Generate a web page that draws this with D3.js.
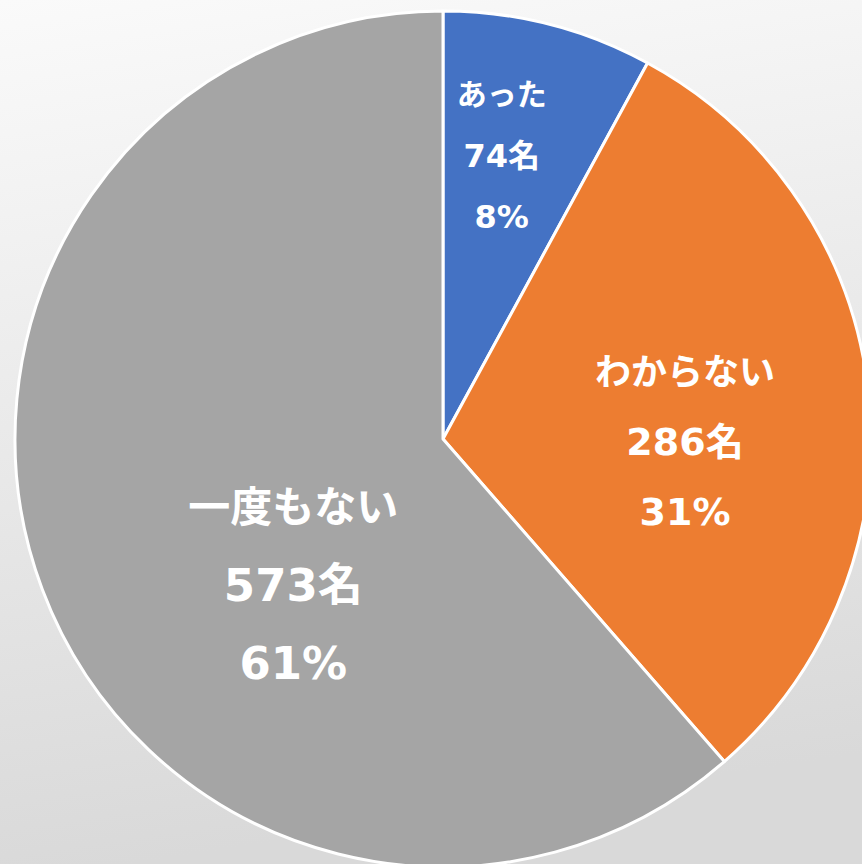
<!DOCTYPE html>
<html>
<head>
<meta charset="utf-8">
<script src="https://cdn.jsdelivr.net/npm/d3@7"></script>
<style>
  html, body { margin: 0; padding: 0; overflow: hidden; }
  #chart { width: 862px; height: 864px; }
</style>
</head>
<body>
<div id="chart"></div>
<script>
var categories = ["あった", "わからない", "一度もない"];
var counts = [74, 286, 573];
var percents = ["8%", "31%", "61%"];
var colors = ["#4472C4", "#ED7D31", "#A5A5A5"];

var width = 862, height = 864;
var cx = 443, cy = 439, radius = 428;

// label tweaks (Excel placed these by hand)
var labelSize = [30, 36, 42];
var labelGap = [61, 70, 78];
var labelShift = [{a: -2.6, r: 290}, {a: 6.9, r: 242}, {a: -23.7, r: 209}];

var svg = d3.select("#chart").append("svg").attr("width", width).attr("height", height)

var defs = svg.append("defs");
var grad = defs.append("linearGradient").attr("id", "bg")
  .attr("x1", "0").attr("y1", "0").attr("x2", "0.15").attr("y2", "1");
grad.append("stop").attr("offset", "0%").attr("stop-color", "#fafafa");
grad.append("stop").attr("offset", "100%").attr("stop-color", "#d9d9d9");

svg.append("rect").attr("width", width).attr("height", height).attr("fill", "url(#bg)");

var pie = d3.pie().sort(null).value(function(d){ return d; });
var arcs = pie(counts);
var arc = d3.arc().innerRadius(0).outerRadius(radius);

var g = svg.append("g").attr("transform", "translate(" + cx + "," + cy + ")");

g.selectAll("path").data(arcs).enter().append("path")
  .attr("d", arc)
  .attr("fill", function(d, i){ return colors[i]; })
  .attr("stroke", "#ffffff")
  .attr("stroke-width", 3)
  .attr("stroke-linejoin", "round");

var labels = g.selectAll("g.lbl").data(arcs).enter().append("g")
  .attr("class", "lbl")
  .attr("transform", function(d, i) {
    var mid = (d.startAngle + d.endAngle) / 2 + labelShift[i].a * Math.PI / 180;
    var r = labelShift[i].r;
    return "translate(" + (Math.sin(mid) * r) + "," + (-Math.cos(mid) * r) + ")";
  });

labels.each(function(d, i) {
  var lines = [categories[i], counts[i] + "名", percents[i]];
  var el = d3.select(this);
  lines.forEach(function(t, k) {
    el.append("text")
      .attr("y", (k - 1) * labelGap[i])
      .attr("dy", "0.36em")
      .style("text-anchor", "middle")
      .style("font-family", k == 0 ? "'Noto Sans CJK JP', sans-serif" : "'DejaVu Sans', 'Noto Sans CJK JP', sans-serif")
      .style("font-weight", "bold")
      .style("font-size", (k == 0 ? labelSize[i] : Math.round(labelSize[i] * 1.06)) + "px")
      .attr("fill", "#ffffff")
      .text(t);
  });
});
</script>
</body>
</html>
